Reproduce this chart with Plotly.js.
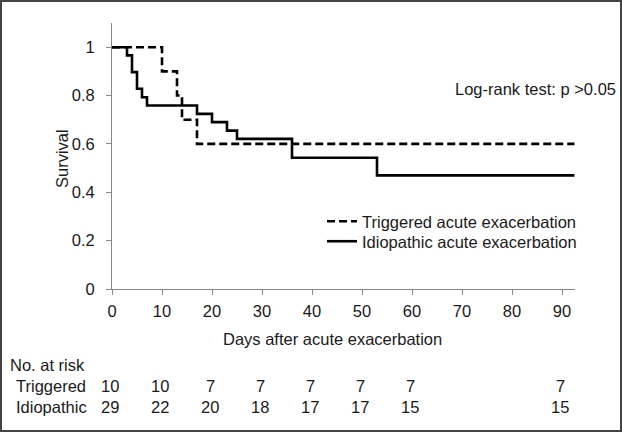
<!DOCTYPE html>
<html>
<head>
<meta charset="utf-8">
<script src="https://cdn.plot.ly/plotly-3.0.1.min.js"></script>
<style>
html,body{margin:0;padding:0;background:#fff;}
#wrap{position:relative;width:622px;height:432px;}
#chart{width:622px;height:432px;}
#frame{position:absolute;left:0;top:0;width:618px;height:428px;border:2px solid #444;pointer-events:none;}
</style>
</head>
<body>
<div id="wrap"><div id="chart"></div><div id="frame"></div></div>
<script>
// Kaplan-Meier step data
const triggeredDays = [0, 10, 13, 14, 17, 92.5];
const triggeredSurv = [1, 0.9, 0.8, 0.7, 0.6, 0.6];
const idiopathicDays = [0, 3, 4, 5, 6, 7, 17, 20, 23, 25, 36, 53, 92.5];
const idiopathicSurv = [1, 0.966, 0.897, 0.828, 0.793, 0.759, 0.724, 0.690, 0.655, 0.621, 0.543, 0.470, 0.470];

// Numbers at risk
const riskDays = [0, 10, 20, 30, 40, 50, 60, 90];
const riskTriggered = [10, 10, 7, 7, 7, 7, 7, 7];
const riskIdiopathic = [29, 22, 20, 18, 17, 17, 15, 15];

const xTicks = [0, 10, 20, 30, 40, 50, 60, 70, 80, 90];
const yTicks = [0, 0.2, 0.4, 0.6, 0.8, 1];

const FONT = 'Liberation Sans, Arial, sans-serif';
const TXT = '#1a1a1a';
const FS = 16.5;

const traces = [
  {x: triggeredDays, y: triggeredSurv, name: 'Triggered acute exacerbation', mode: 'lines', legend: 'legend',
   line: {shape: 'hv', color: '#000', width: 2.6, dash: '8px,4px'}},
  {x: idiopathicDays, y: idiopathicSurv, name: 'Idiopathic acute exacerbation', mode: 'lines', legend: 'legend2',
   line: {shape: 'hv', color: '#000', width: 2.6}}
];

const plotH = 266, plotW = 463;
const ann = [];
function py(pix){ return (289 - pix) / plotH; }
function px(pix){ return (pix - 112) / plotW; }
const f = {family: FONT, size: FS, color: TXT};
ann.push({text: 'Log-rank test: p >0.05', xref: 'paper', yref: 'paper', x: px(618), y: py(89),
  xanchor: 'right', yanchor: 'middle', showarrow: false, font: f});
ann.push({text: 'Days after acute exacerbation', xref: 'paper', yref: 'paper', x: px(332.5), y: py(339),
  xanchor: 'center', yanchor: 'middle', showarrow: false, font: f});
ann.push({text: 'Survival', xref: 'paper', yref: 'paper', x: px(62), y: py(159), textangle: -90,
  xanchor: 'center', yanchor: 'middle', showarrow: false, font: f});
ann.push({text: 'No. at risk', xref: 'paper', yref: 'paper', x: px(8), y: py(365),
  xanchor: 'left', yanchor: 'middle', showarrow: false, font: f});
ann.push({text: 'Triggered', xref: 'paper', yref: 'paper', x: px(14), y: py(386),
  xanchor: 'left', yanchor: 'middle', showarrow: false, font: f});
ann.push({text: 'Idiopathic', xref: 'paper', yref: 'paper', x: px(14), y: py(407),
  xanchor: 'left', yanchor: 'middle', showarrow: false, font: f});
riskDays.forEach((d, i) => {
  ann.push({text: String(riskTriggered[i]), xref: 'x', yref: 'paper', x: d, y: py(386), xshift: -2,
    xanchor: 'center', yanchor: 'middle', showarrow: false, font: f});
  ann.push({text: String(riskIdiopathic[i]), xref: 'x', yref: 'paper', x: d, y: py(407), xshift: -2,
    xanchor: 'center', yanchor: 'middle', showarrow: false, font: f});
});

const legBase = {xanchor: 'left', yanchor: 'middle', bgcolor: 'rgba(0,0,0,0)', font: f, itemwidth: 30, tracegroupgap: 0};

const layout = {
  width: 622, height: 432,
  margin: {l: 112, r: 47, t: 23, b: 143, pad: 0},
  paper_bgcolor: '#fff', plot_bgcolor: '#fff',
  font: f,
  showlegend: true,
  legend: Object.assign({}, legBase, {x: px(322), y: py(221.5)}),
  legend2: Object.assign({}, legBase, {x: px(322), y: py(241.5)}),
  xaxis: {range: [0, 92.6], tickvals: xTicks, ticktext: xTicks.map(String), ticks: 'outside', ticklen: 5,
    tickcolor: '#888', showline: true, linecolor: '#888', linewidth: 1, showgrid: false, zeroline: false,
    ticklabelstandoff: 2, tickfont: f, fixedrange: true},
  yaxis: {range: [0, 1.1], tickvals: yTicks, ticktext: yTicks.map(v => String(v)), ticks: 'outside', ticklen: 5,
    tickcolor: '#888', showline: true, linecolor: '#888', linewidth: 1, showgrid: false, zeroline: false,
    ticklabelstandoff: 8, tickfont: f, fixedrange: true},
  annotations: ann
};

Plotly.newPlot('chart', traces, layout, {displayModeBar: false, staticPlot: true});
</script>
</body>
</html>
